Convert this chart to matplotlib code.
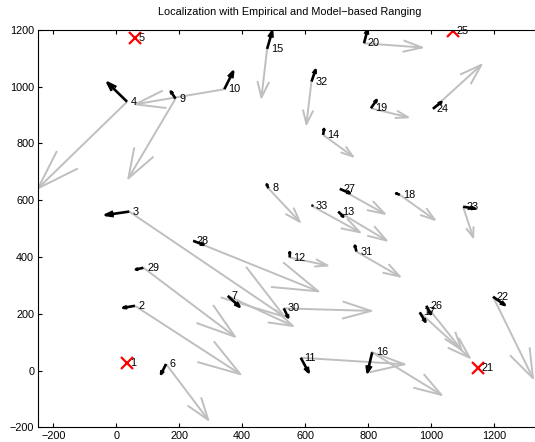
import matplotlib
matplotlib.use('Agg')
import matplotlib.pyplot as plt
import numpy as np

plt.rcParams['font.family'] = ['Liberation Sans', 'DejaVu Sans']

# node positions (1..33), anchors have no error vectors
node_x = [33, 59, 41, 34, 60, 158, 354, 483, 188, 343,
          586, 551, 705, 657, 479, 813, 964, 901, 809, 787,
          1150, 1197, 1102, 1006, 1070, 985, 710, 244, 86, 532,
          763, 620, 620]
node_y = [25, 228, 560, 947, 1170, 23, 263, 642, 958, 991,
          45, 398, 560, 830, 1133, 64, 205, 619, 924, 1153,
          8, 260, 577, 922, 1195, 228, 640, 457, 362, 219,
          419, 1018, 581]
anchors = [1, 5, 21, 25]

# localization error, empirical ranging
emp_u = [0, 335, 494, -283, 0, 134, 207, 100, -150, -283,
         330, 120, 154, 95, -18, 220, 159, 111, 118, 185,
         0, 127, 32, 154, 0, 112, 143, 398, 291, 278,
         138, -16, 154]
emp_v = [0, -241, -371, -305, 0, -197, -106, -118, -281, -53,
         -23, -28, -102, -76, -171, -150, -160, -88, -32, -15,
         0, -287, -108, 155, 0, -155, -88, -178, -243, -9,
         -88, -150, -94]

# localization error, model-based ranging
mod_u = [0, -37, -75, -62, 0, -16, 37, -5, -15, 28,
         25, 0, 16, 3, 16, -15, 18, -12, 18, 11,
         0, 37, 37, 27, 0, 14, 32, 33, -24, 14,
         -5, 13, 3]
mod_v = [0, -7, -12, 67, 0, -35, -38, 14, 25, 62,
         -51, 19, -18, 21, 61, -70, -33, 5, 29, 47,
         0, -29, -6, 24, 0, -29, -15, -14, -6, -32,
         21, 41, 0]


def quiver_lines(ax, x, y, u, v, color, lw, alpha=0.33, beta=0.33):
    x = np.asarray(x, float)
    y = np.asarray(y, float)
    u = np.asarray(u, float)
    v = np.asarray(v, float)
    keep = (u != 0) | (v != 0)
    x, y, u, v = x[keep], y[keep], u[keep], v[keep]
    nan = np.full(x.shape, np.nan)
    sx = np.column_stack([x, x + u, nan]).ravel()
    sy = np.column_stack([y, y + v, nan]).ravel()
    hx = np.column_stack([x + u - alpha * (u + beta * v), x + u,
                          x + u - alpha * (u - beta * v), nan]).ravel()
    hy = np.column_stack([y + v - alpha * (v - beta * u), y + v,
                          y + v - alpha * (v + beta * u), nan]).ravel()
    ax.plot(sx, sy, color=color, lw=lw, solid_capstyle='butt')
    ax.plot(hx, hy, color=color, lw=lw, solid_capstyle='butt')


fig = plt.figure(figsize=(5.35, 4.42), dpi=100)
ax = fig.add_axes([0.0705, 0.0333, 0.941, 0.899])

quiver_lines(ax, node_x, node_y, emp_u, emp_v, '0.75', 1.4)
quiver_lines(ax, node_x, node_y, mod_u, mod_v, 'k', 1.9)

ax_x = [node_x[i - 1] for i in anchors]
ax_y = [node_y[i - 1] for i in anchors]
ax.plot(ax_x, ax_y, 'x', color='red', ms=9, mew=1.6)

for i in range(len(node_x)):
    ax.text(node_x[i] + 12, node_y[i], str(i + 1), fontsize=7.8,
            va='center', ha='left')

ax.set_xlim(-250, 1350)
ax.set_ylim(-200, 1200)
ax.set_xticks(np.arange(-200, 1201, 200))
ax.set_yticks(np.arange(-200, 1201, 200))
ax.tick_params(direction='in', length=3, width=0.8, labelsize=7.8,
               top=True, right=False)
ax.tick_params(axis='x', pad=3)
ax.tick_params(axis='y', pad=2.5)
ax.spines['right'].set_visible(False)
ax.set_title('Localization with Empirical and Model\u2212based Ranging',
             fontsize=7.8, pad=11)

fig.savefig('out.png', dpi=100)
